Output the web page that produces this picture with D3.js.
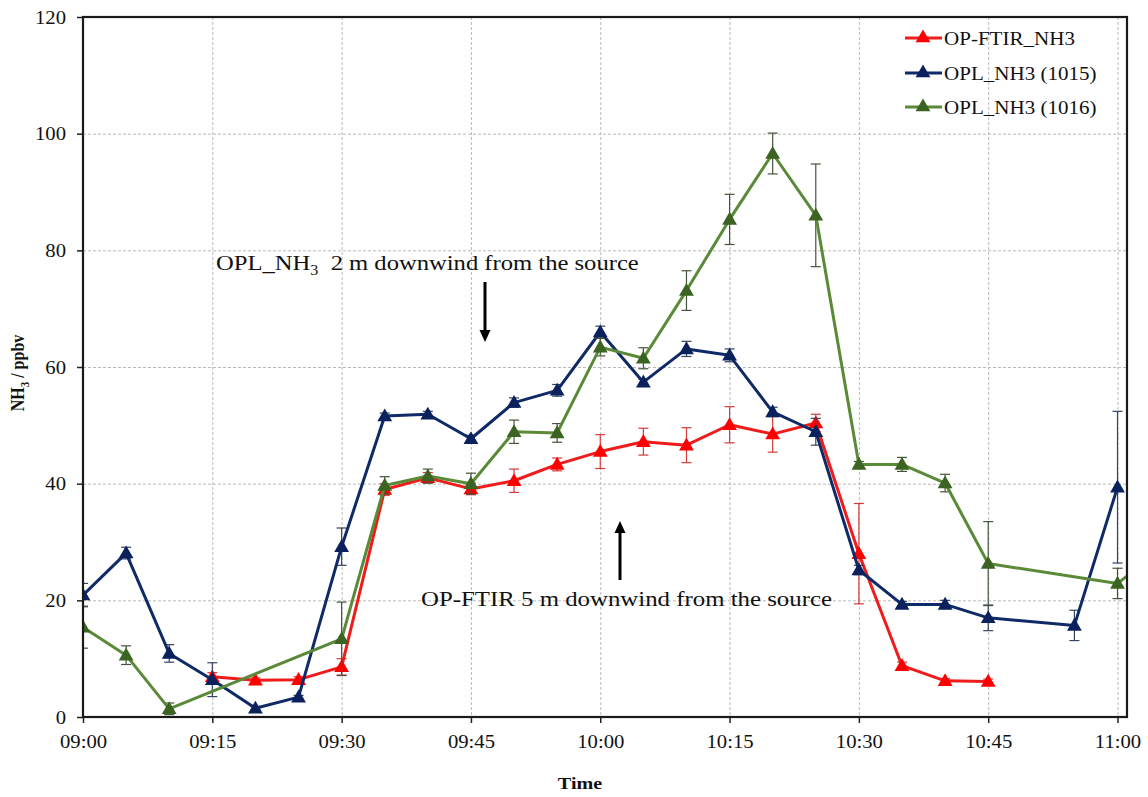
<!DOCTYPE html>
<html>
<head>
<meta charset="utf-8">
<script src="https://cdn.jsdelivr.net/npm/d3@7/dist/d3.min.js"></script>
<style>
  html, body { margin: 0; padding: 0; background: #fff; }
  svg text { font-family: "Times New Roman", "Liberation Serif", serif; fill: #111; }
</style>
</head>
<body>
<svg id="chart" width="1148" height="797"></svg>
<script>
const FONT = '"Times New Roman", "Liberation Serif", serif';
const SX = 1.15; // horizontal stretch applied to all lettering

// Sampling times (5-minute steps)
const times = ["09:00","09:05","09:10","09:15","09:20","09:25","09:30","09:35","09:40","09:45",
               "09:50","09:55","10:00","10:05","10:10","10:15","10:20","10:25","10:30","10:35",
               "10:40","10:45","10:50","10:55","11:00","11:05"];

// NH3 concentrations (ppbv) and their error half-widths
const ftirNH3   = [null,null,null,6.9,6.3,6.4,8.6,39.0,41.0,39.1,40.5,43.3,45.5,47.2,46.6,50.1,48.5,50.4,28.0,8.8,6.2,6.1,null,null,null,null];
const ftirErr   = [null,null,null,0.7,0.4,0.5,1.4,1.0,0.9,1.0,2.0,1.1,2.9,2.3,3.0,3.1,3.1,1.5,8.6,0.6,0.4,0.4,null,null,null,null];
const opl1015   = [20.9,28.1,10.9,6.4,1.5,3.4,29.2,51.6,51.9,47.7,53.9,56.0,66.0,57.4,63.1,62.0,52.3,48.9,25.2,19.3,19.3,17.0,null,15.7,39.4,null];
const opl1015Err= [2.0,1.0,1.5,2.9,0.3,0.3,3.2,0.5,0.5,0.6,0.8,1.0,1.0,0.5,1.3,1.1,0.8,2.3,0.8,0.5,0.7,2.2,null,2.6,13.0,null];
const opl1016   = [15.4,10.6,1.4,null,null,null,13.4,39.7,41.3,40.0,48.9,48.7,63.4,61.5,73.1,85.3,96.6,86.0,43.3,43.3,40.1,26.3,null,null,22.9,28.6];
const opl1016Err= [3.6,1.6,1.0,null,null,null,6.3,1.5,1.2,1.8,2.0,1.6,1.5,1.8,3.4,4.3,3.5,8.8,0.5,1.2,1.5,7.2,null,null,2.6,null];

const seriesNames = ["OP-FTIR_NH3", "OPL_NH3 (1015)", "OPL_NH3 (1016)"];
const xTicks = ["09:00","09:15","09:30","09:45","10:00","10:15","10:30","10:45","11:00"];
const yTicks = [0, 20, 40, 60, 80, 100, 120];

const parseT = d3.timeParse("%H:%M");
const fmtT = d3.timeFormat("%H:%M");

const series = [
  { name: seriesNames[0], vals: ftirNH3, errs: ftirErr,   line: "#f01b1b", mark: "#ff0000", err: "#d63a3a" },
  { name: seriesNames[1], vals: opl1015, errs: opl1015Err, line: "#0f2a66", mark: "#0b215e", err: "#34445e" },
  { name: seriesNames[2], vals: opl1016, errs: opl1016Err, line: "#5a8a38", mark: "#3b6321", err: "#44543a" }
];

const svg = d3.select("#chart");
const L = 83, R = 1127, T = 17, B = 717;

const x = d3.scaleTime()
  .domain([parseT("09:00"), new Date(parseT("09:00").getTime() + 121.1 * 60000)])
  .range([L, R]);
const y = d3.scaleLinear().domain([0, 120]).range([B, T]);

// Grid
const grid = svg.append("g").attr("stroke", "#b9b9b9").attr("stroke-width", 1).attr("stroke-dasharray", "3,2");
yTicks.slice(1, -1).forEach(v => {
  grid.append("line").attr("x1", L).attr("x2", R).attr("y1", y(v) + 0.5).attr("y2", y(v) + 0.5);
});
xTicks.slice(1).forEach(t => {
  grid.append("line").attr("x1", x(parseT(t)) + 0.5).attr("x2", x(parseT(t)) + 0.5).attr("y1", T).attr("y2", B);
});

// Axes
const xAxis = d3.axisBottom(x).tickValues(xTicks.map(parseT)).tickFormat(fmtT).tickSize(6);
const yAxis = d3.axisLeft(y).tickValues(yTicks).tickSize(6);

const gx = svg.append("g").attr("transform", `translate(0,${B})`).call(xAxis);
const gy = svg.append("g").attr("transform", `translate(${L},0)`).call(yAxis);
[gx, gy].forEach(g => {
  g.attr("font-family", null).attr("font-size", null);
  g.select(".domain").remove();
  g.selectAll(".tick line").attr("stroke", "#222").attr("stroke-width", 1.5);
  g.selectAll(".tick text").style("font-size", "18px").style("font-family", FONT).attr("fill", "#111");
});
gx.selectAll(".tick text").attr("x", 0).attr("y", 0).attr("dy", null)
  .attr("transform", `translate(0,31) scale(${SX},1)`);
gy.selectAll(".tick text").attr("x", 0).attr("y", 0).attr("dy", "0.34em")
  .attr("transform", `translate(-17,0) scale(${SX},1)`);

// Plot clip
svg.append("clipPath").attr("id", "plotClip")
  .append("rect").attr("x", L).attr("y", T).attr("width", R - L).attr("height", B - T);

const plot = svg.append("g").attr("clip-path", "url(#plotClip)");

const tri = d3.symbol().type(d3.symbolTriangle).size(95);
const line = d3.line().x(d => x(d.t)).y(d => y(d.v));

series.forEach(s => {
  const pts = times.map((t, i) => ({ t: parseT(t), v: s.vals[i], e: s.errs[i] })).filter(d => d.v !== null);
  const g = plot.append("g");
  // error bars
  pts.filter(d => d.e !== null).forEach(d => {
    const cx = x(d.t), y1 = y(d.v + d.e), y2 = y(d.v - d.e);
    g.append("line").attr("x1", cx).attr("x2", cx).attr("y1", y1).attr("y2", y2).attr("stroke", s.err).attr("stroke-width", 1.2);
    [y1, y2].forEach(yy => g.append("line").attr("x1", cx - 5).attr("x2", cx + 5).attr("y1", yy).attr("y2", yy)
      .attr("stroke", s.err).attr("stroke-width", 1.2));
  });
  g.append("path").datum(pts).attr("d", line).attr("fill", "none")
    .attr("stroke", s.line).attr("stroke-width", 3).attr("stroke-linejoin", "round");
  g.selectAll("path.m").data(pts).join("path").attr("class", "m")
    .attr("d", tri).attr("transform", d => `translate(${x(d.t)},${y(d.v) + 1})`).attr("fill", s.mark);
});

// Plot frame
svg.append("rect").attr("x", L).attr("y", T).attr("width", R - L).attr("height", B - T)
  .attr("fill", "none").attr("stroke", "#1a1a1a").attr("stroke-width", 2.2);

// Stretched text helper
function label(px, py, size, opts = {}) {
  return svg.append("text")
    .attr("transform", `translate(${px},${py}) scale(${SX},1)`)
    .attr("text-anchor", opts.anchor || "start")
    .style("font-family", FONT).style("font-size", size + "px")
    .style("font-weight", opts.bold ? "bold" : "normal")
    .style("white-space", "pre");
}

// Legend
const legendRows = [38, 73, 107];
series.forEach((s, i) => {
  const ly = legendRows[i];
  svg.append("line").attr("x1", 905).attr("x2", 942).attr("y1", ly).attr("y2", ly).attr("stroke", s.line).attr("stroke-width", 3);
  svg.append("path").attr("d", tri).attr("transform", `translate(923,${ly})`).attr("fill", s.mark);
  label(944, ly + 6.5, 18.3).text(s.name);
});

// Axis titles
label(580, 789, 17.5, { anchor: "middle", bold: true }).text("Time");

const yt = svg.append("text").attr("transform", `translate(24,373) scale(${SX},1) rotate(-90)`).attr("text-anchor", "middle")
  .style("font-family", FONT).style("font-size", "16px").style("font-weight", "bold");
yt.append("tspan").text("NH");
yt.append("tspan").attr("dy", 4).style("font-size", "11px").text("3");
yt.append("tspan").attr("dy", -4).text(" / ppbv");

// Annotations
const a1 = label(216, 270, 21.4);
a1.append("tspan").text("OPL_NH");
a1.append("tspan").attr("dy", 5).style("font-size", "14px").text("3");
a1.append("tspan").attr("dy", -5).text("  2 m downwind from the source");

label(421, 606, 21.6).text("OP-FTIR 5 m downwind from the source");

function arrow(xp, yFrom, yTo) {
  const dir = yTo > yFrom ? 1 : -1;
  const headLen = 12, headW = 5.5;
  svg.append("line").attr("x1", xp).attr("x2", xp).attr("y1", yFrom).attr("y2", yTo - dir * headLen)
    .attr("stroke", "#000").attr("stroke-width", 3);
  svg.append("path")
    .attr("d", `M${xp - headW},${yTo - dir * headLen} L${xp + headW},${yTo - dir * headLen} L${xp},${yTo} Z`)
    .attr("fill", "#000");
}
arrow(485, 282, 342);
arrow(620, 580, 521);
</script>
</body>
</html>
